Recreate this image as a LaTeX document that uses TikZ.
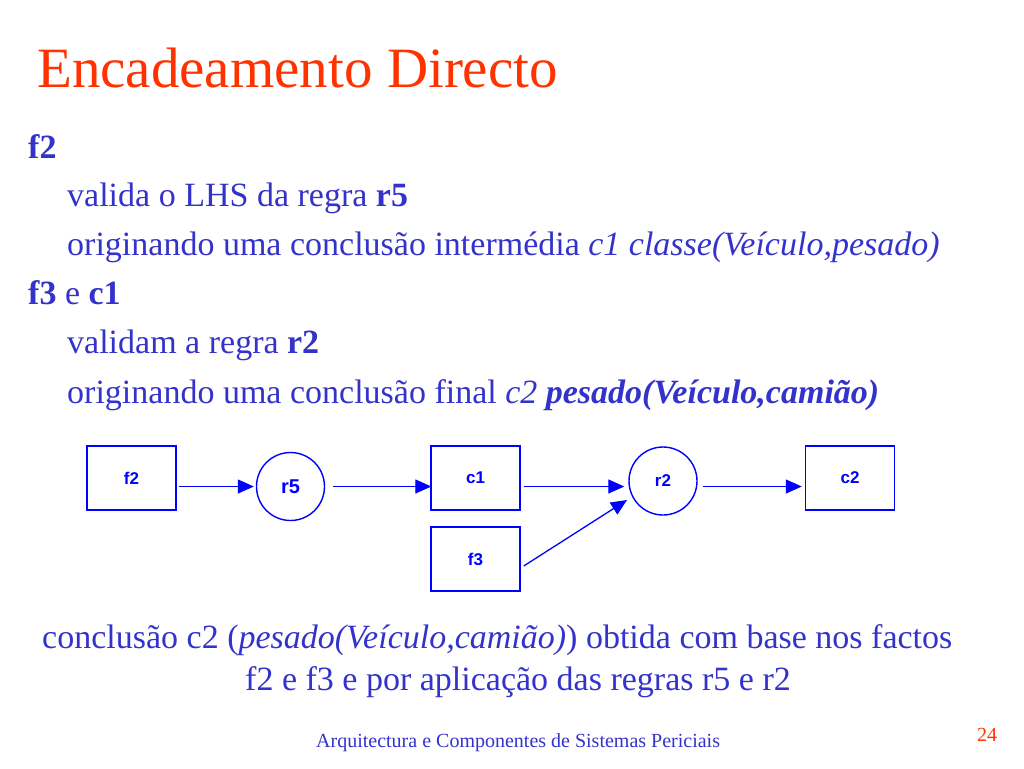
\documentclass[tikz,border=0pt]{standalone}
\usepackage{fontspec}
\setmainfont{Liberation Serif}
\newfontfamily\arialf{Liberation Sans}
\usetikzlibrary{arrows.meta,calc}
\definecolor{txtblue}{RGB}{51,51,204}
\definecolor{ttlred}{RGB}{255,51,0}
\definecolor{dgblue}{RGB}{0,0,255}
\begin{document}
\begin{tikzpicture}[x=1pt,y=-1pt,
  txt/.style={anchor=base west, inner sep=0pt, text=txtblue, font=\fontsize{34}{40}\selectfont},
  box/.style={draw=dgblue, line width=1.4pt, minimum width=89pt, minimum height=64pt, inner sep=0pt, text=dgblue, font=\arialf\bfseries\fontsize{17}{19}\selectfont},
  rulenode/.style={circle, draw=dgblue, line width=1.4pt, minimum size=68pt, inner sep=0pt, text=dgblue, font=\arialf\bfseries\fontsize{17}{19}\selectfont},
  arr/.style={draw=dgblue, line width=1.3pt, -{Triangle[length=16pt,width=14pt]}}]
\fill[white] (0,0) rectangle (1024,768);
\useasboundingbox (0,0) rectangle (1024,768);
% title
\node[anchor=base west, inner sep=0pt, text=ttlred, font=\fontsize{57}{60}\selectfont] (title) at (37,87) {Encadeamento Directo};
% body
\node[txt] (l1) at (28,158) {\textbf{f2}};
\node[txt] (l2) at (67,206) {valida o LHS da regra \textbf{r5}};
\node[txt] (l3) at (67,255) {originando uma conclusão intermédia \textit{c1 classe(Veículo,pesado)}};
\node[txt] (l4) at (28,304) {\textbf{f3} e \textbf{c1}};
\node[txt] (l5) at (67,353) {validam a regra \textbf{r2}};
\node[txt] (l6) at (67,403) {originando uma conclusão final \textit{c2} \textbf{\textit{pesado(Veículo,camião)}}};
% diagram
\node[box] (f2) at (131.5,478) {f2};
\node[rulenode, font=\arialf\bfseries\fontsize{20}{22}\selectfont] (r5) at (290.5,486.5) {r5};
\node[box] (c1) at (475.5,478) {c1};
\node[box] (f3) at (475.5,559) {f3};
\node[rulenode] (r2) at (663,481) {r2};
\node[box] (c2) at (850,478) {c2};
\coordinate (f3out) at ($(f3.east)+(3,7)$);
\coordinate (r2in) at ($(r2.center)+(-36,19)$);
\draw[arr] ($(f2.east |- r5.center)+(2,0)$) -- ($(r5.west)+(-2,0)$);
\draw[arr] ($(r5.east)+(8,0)$) -- ($(c1.west |- r5.center)+(1,0)$);
\draw[arr] ($(c1.east |- r5.center)+(3,0)$) -- ($(r2.west |- r5.center)+(-4,0)$);
\draw[arr] (f3out) -- (r2in);
\draw[arr] ($(r2.east |- r5.center)+(5,0)$) -- ($(c2.west |- r5.center)+(-3,0)$);
% conclusion
\node[txt] (b1) at (42,648) {conclusão c2 (\textit{pesado(Veículo,camião)}) obtida com base nos factos};
\node[txt] (b2) at (245,690) {f2 e f3 e por aplicação das regras r5 e r2};
% footer
\node[anchor=base west, inner sep=0pt, text=txtblue, font=\fontsize{20}{22}\selectfont] (foot) at (316,747) {Arquitectura e Componentes de Sistemas Periciais};
\node[anchor=base west, inner sep=0pt, text=ttlred, font=\fontsize{20}{22}\selectfont] (page) at (977,741) {24};
\end{tikzpicture}
\end{document}
